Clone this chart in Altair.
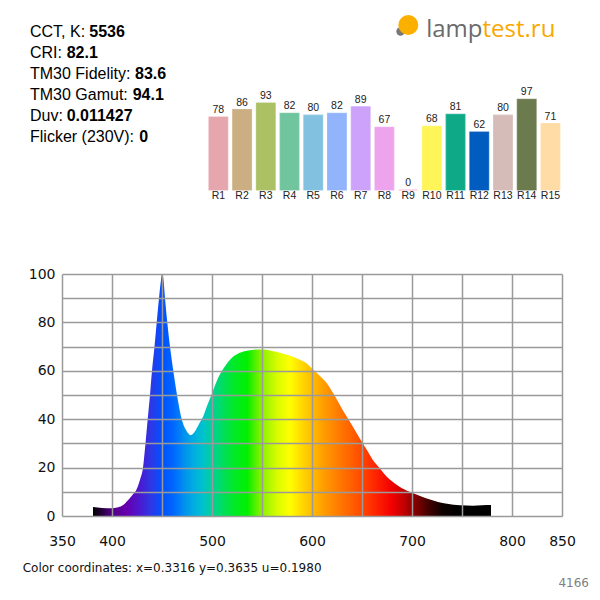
import altair as alt
import pandas as pd

# ---------------- data ----------------
INFO_LABELS = ["CCT, K:", "CRI:", "TM30 Fidelity:", "TM30 Gamut:", "Duv:", "Flicker (230V):"]
INFO_VALUES = ["5536", "82.1", "83.6", "94.1", "0.011427", "0"]

R_CATS = ["R1", "R2", "R3", "R4", "R5", "R6", "R7", "R8", "R9", "R10", "R11", "R12", "R13", "R14", "R15"]
R_VALUES = [78, 86, 93, 82, 80, 82, 89, 67, 0, 68, 81, 62, 80, 97, 71]
R_COLORS = ["#e6a6ae", "#cbaf82", "#acc064", "#70c49e", "#82c2e0", "#92b4fc", "#cca2fa",
            "#eea4ec", "#f4a6c0", "#fff458", "#0eaa88", "#005cbe", "#d6bcb8", "#6b7b4d", "#ffdca6"]

SPEC_WL = [381, 390, 400, 405, 410, 416, 420, 424, 428, 431, 433.5, 435.7, 438, 440, 442.5,
           444.7, 447, 449, 450, 451.5, 453, 455.3, 458, 461.3, 465, 469.7, 474, 478.7, 483,
           487, 491, 495, 500, 505, 510, 515, 521, 528, 535, 545, 552, 560, 568, 576, 585,
           593, 600, 607, 615, 622, 628, 634, 640, 645, 650, 656, 661, 668, 675, 680, 685,
           690, 700, 710, 718, 726, 735, 748, 761, 770, 779]
SPEC_VAL = [3.7, 3.3, 3.2, 3.5, 4.2, 6.5, 8.5, 10.5, 15, 20, 30, 40, 50, 60, 70,
            80, 90, 97.5, 100, 97.5, 90, 80, 70, 60, 50, 40, 35.5, 33.4, 35,
            38, 41, 45.5, 50.6, 56, 60, 63, 65.8, 67.5, 68.3, 68.8, 68.8, 68.2, 67.5, 66.5, 65.1,
            63.5, 61, 58.3, 54.8, 50.2, 45.8, 41.5, 37.5, 34, 30.6, 26.5, 23, 19.6, 16.1, 14.4, 12.8,
            11.5, 9.6, 8.0, 6.8, 5.8, 5.1, 4.4, 4.2, 4.4, 4.5]

X_TICKS = [350, 400, 450, 500, 550, 600, 650, 700, 750, 800, 850]
Y_TICKS = [0, 10, 20, 30, 40, 50, 60, 70, 80, 90, 100]

COORD_TEXT = "Color coordinates: x=0.3316 y=0.3635 u=0.1980"
ID_TEXT = "4166"

# wavelength -> colour stops for the spectral fill
GRAD_WL = [381, 388, 400, 415, 428, 440, 450, 462, 472, 482, 490, 500, 510, 522, 535, 548,
           565, 578, 590, 600, 612, 628, 645, 662, 680, 692, 702, 715, 730, 745, 779]
GRAD_COL = ["#000000", "#200030", "#520085", "#6600b0", "#4a1ad0", "#2a3ae8", "#0050ff",
            "#0068ff", "#0090f0", "#00aee0", "#00c0d0", "#00d09a", "#00dc62", "#00ea28",
            "#00f000", "#80f000", "#d8fc00", "#ffff00", "#ffd800", "#ffbc00", "#ff9c00",
            "#ff7800", "#ff5400", "#ff2800", "#f20000", "#c00000", "#8c0000", "#4a0000",
            "#100000", "#000000", "#000000"]

# ---------------- layout (plot-area pixel coords) ----------------
INFO_X = -32
INFO_Y0 = -237.3
INFO_DY = 21
INFO_VALUE_X = [27.3, 4.7, 73, 70.7, 4.7, 77.3]

spec_df = pd.DataFrame({"wl": SPEC_WL, "val": SPEC_VAL})
r_df = pd.DataFrame({"cat": R_CATS, "val": R_VALUES})

wmin, wmax = min(SPEC_WL), max(SPEC_WL)
stops = [alt.GradientStop(color=c, offset=(w - wmin) / (wmax - wmin)) for w, c in zip(GRAD_WL, GRAD_COL)]
grad = alt.LinearGradient(gradient="linear", stops=stops, x1=0, x2=1, y1=0, y2=0)

AX_FONT = "DejaVu Sans"

spectrum = alt.Chart(spec_df).mark_area(color=grad, interpolate="monotone").encode(
    x=alt.X("wl:Q", scale=alt.Scale(domain=[350, 850], nice=False, zero=False),
            axis=alt.Axis(values=X_TICKS, title=None, grid=True, gridColor="#9a9a9a", gridWidth=1.5,
                          domain=False, ticks=False, tickSize=0, labelPadding=29,
                          labelBaseline="alphabetic", labelFont=AX_FONT, labelFontSize=14,
                          labelColor="#111", zindex=1, labelFlush=False,
                          labelExpr="(datum.value % 100 == 50 && datum.value != 350 && datum.value != 850) ? '' : datum.label")),
    y=alt.Y("val:Q", scale=alt.Scale(domain=[0, 100], nice=False),
            axis=alt.Axis(values=Y_TICKS, title=None, grid=True, gridColor="#9a9a9a", gridWidth=1.5,
                          domain=False, ticks=False, tickSize=0, labelPadding=7,
                          labelFont=AX_FONT, labelFontSize=14, labelColor="#111", zindex=1,
                          labelFlush=False,
                          labelExpr="datum.value % 20 == 0 ? datum.label : ''")),
)

bx = alt.X("cat:N", sort=R_CATS, axis=None,
           scale=alt.Scale(domain=R_CATS, range=[147, 497.8], paddingInner=0.21, paddingOuter=0))
by = alt.Y("val:Q", axis=None, scale=alt.Scale(domain=[0, 100], range=[-84, -177.5], nice=False, zero=True))

bars = alt.Chart(r_df).mark_bar(strokeWidth=1.2, strokeOpacity=0.8, y2Offset=1).encode(
    x=bx, y=by,
    color=alt.Color("cat:N", scale=alt.Scale(domain=R_CATS, range=R_COLORS), legend=None),
    stroke=alt.Stroke("cat:N", scale=alt.Scale(domain=R_CATS, range=R_COLORS), legend=None),
)
bar_vals = alt.Chart(r_df).mark_text(baseline="bottom", dy=-2, font="Liberation Sans", fontSize=10.5,
                                     color="#222").encode(x=bx, y=by, text="val:Q")
bar_cats = alt.Chart(r_df).mark_text(baseline="alphabetic", font="Liberation Sans", fontSize=10.5,
                                     color="#222").encode(x=bx, y=alt.value(-75), text="cat:N")
bar_group = alt.layer(bars, bar_vals, bar_cats)

one = alt.Data(values=[{}])
texts = []
for i, (lab, val) in enumerate(zip(INFO_LABELS, INFO_VALUES)):
    yy = INFO_Y0 + i * INFO_DY
    texts.append(alt.Chart(one).mark_text(align="left", baseline="alphabetic", font="Liberation Sans",
                                          fontSize=16, color="#000").encode(
        x=alt.value(INFO_X), y=alt.value(yy), text=alt.value(lab)))
    texts.append(alt.Chart(one).mark_text(align="left", baseline="alphabetic", font="Liberation Sans",
                                          fontSize=16, fontWeight="bold", color="#000").encode(
        x=alt.value(INFO_VALUE_X[i]), y=alt.value(yy), text=alt.value(val)))

# logo
texts.append(alt.Chart(one).mark_point(shape="circle", filled=True, size=70, color="#777", opacity=1).encode(
    x=alt.value(338.5), y=alt.value(-242.5)))
texts.append(alt.Chart(one).mark_point(shape="circle", filled=True, size=400, color="#fbb000", opacity=1).encode(
    x=alt.value(346.3), y=alt.value(-249)))
texts.append(alt.Chart(one).mark_text(align="right", baseline="alphabetic", font="Open Sans",
                                      fontSize=24, color="#6b6b6b").encode(
    x=alt.value(420.5), y=alt.value(-237.3), text=alt.value("lamp")))
texts.append(alt.Chart(one).mark_text(align="left", baseline="alphabetic", font="Open Sans",
                                      fontSize=24, color="#f9a800").encode(
    x=alt.value(420.5), y=alt.value(-237.3), text=alt.value("test.ru")))

# footer texts
texts.append(alt.Chart(one).mark_text(align="left", baseline="alphabetic", font=AX_FONT,
                                      fontSize=12, color="#111").encode(
    x=alt.value(-39.3), y=alt.value(297.7), text=alt.value(COORD_TEXT)))
texts.append(alt.Chart(one).mark_text(align="right", baseline="alphabetic", font=AX_FONT,
                                      fontSize=12, color="#808080").encode(
    x=alt.value(527), y=alt.value(313), text=alt.value(ID_TEXT)))

chart = alt.layer(spectrum, bar_group, *texts).resolve_scale(
    x="independent", y="independent"
).properties(
    width=500, height=242,
    autosize=alt.AutoSizeParams(type="none"),
    padding={"left": 54, "top": 266, "right": 30, "bottom": 75},
    background="white",
).configure_view(stroke="transparent")

chart.save("out.html", embed_options={"renderer": "svg", "actions": False})
